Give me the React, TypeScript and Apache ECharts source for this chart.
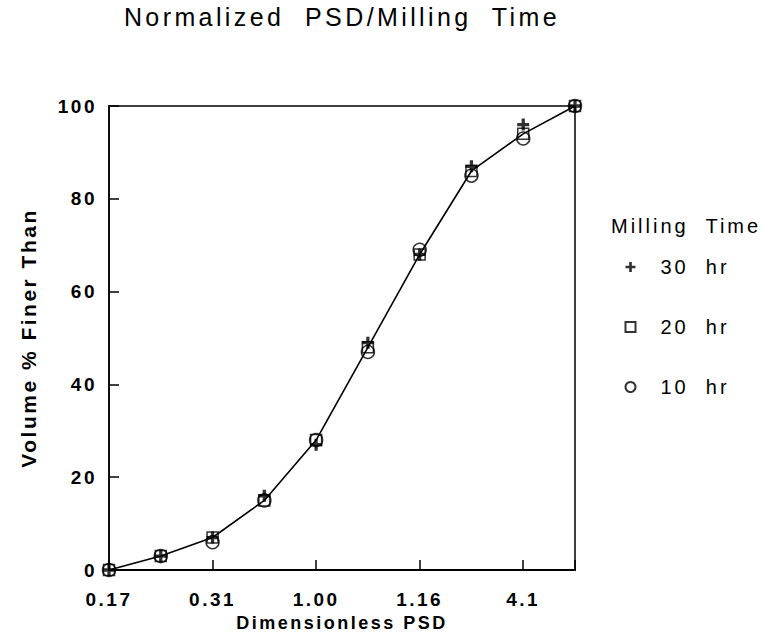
import React, { useEffect, useRef } from "react";
import * as echarts from "echarts";

const xLabels = ["0.17", "", "0.31", "", "1.00", "", "1.16", "", "4.1", ""];
const xIndex = [0, 1, 2, 3, 4, 5, 6, 7, 8, 9];
const hr30 = [0, 3, 7, 16, 27, 49, 68, 87, 96, 100];
const hr20 = [0, 3, 7, 15, 28, 48, 68, 86, 94, 100];
const hr10 = [0, 3, 6, 15, 28, 47, 69, 85, 93, 100];
const seriesNames = ["30  hr", "20  hr", "10  hr"];

const plusPath = "path://M4,0h3v4h4v3h-4v4h-3v-4h-4v-3h4z";
const FONT = "Liberation Sans";

export default function App() {
  const ref = useRef<HTMLDivElement>(null);
  useEffect(() => {
    if (!ref.current) return;
    const chart = echarts.init(ref.current, null, { renderer: "svg" });
    const pts = (vals: number[]) => xIndex.map((x, i) => [x, vals[i]]);
    const axisFont = { fontFamily: FONT, fontWeight: "bold" as const, fontSize: 19, color: "#000" };
    chart.setOption({
      animation: false,
      backgroundColor: "#fff",
      title: {
        text: "Normalized  PSD/Milling  Time",
        left: 342,
        textAlign: "center",
        top: 4,
        padding: 0,
        textStyle: { fontFamily: FONT, fontWeight: "normal", fontSize: 25, color: "#000" },
      },
      legend: {
        orient: "vertical",
        left: 623,
        top: 257,
        padding: 0,
        itemGap: 40,
        itemWidth: 10,
        itemHeight: 10,
        data: [
          { name: seriesNames[0], icon: plusPath },
          { name: seriesNames[1], icon: "rect" },
          { name: seriesNames[2], icon: "circle" },
        ],
        textStyle: { fontFamily: FONT, fontSize: 20, lineHeight: 20, color: "#000", padding: [0, 0, 0, 20] },
      },
      graphic: [
        {
          type: "text",
          left: 611,
          top: 216,
          style: { text: "Milling  Time", fontFamily: FONT, fontSize: 20, fill: "#000" },
        },
      ],
      grid: { left: 109, right: 189, top: 106, bottom: 72, show: true, borderColor: "#000", borderWidth: 1.5 },
      xAxis: {
        type: "value",
        min: 0,
        max: 9,
        interval: 2,
        name: "Dimensionless PSD",
        nameLocation: "middle",
        nameGap: 42,
        nameTextStyle: { ...axisFont, fontSize: 18 },
        axisLine: { lineStyle: { color: "#000", width: 2 } },
        axisTick: { inside: true, length: 10, lineStyle: { color: "#000", width: 1.5 } },
        axisLabel: { ...axisFont, margin: 20, formatter: (v: number) => xLabels[v] ?? "" },
        splitLine: { show: false },
      },
      yAxis: {
        type: "value",
        min: 0,
        max: 100,
        interval: 20,
        name: "Volume % Finer Than",
        nameLocation: "middle",
        nameRotate: 90,
        nameGap: 70,
        nameTextStyle: { ...axisFont, fontSize: 21 },
        axisLine: { lineStyle: { color: "#000", width: 1.5 } },
        axisTick: { inside: true, length: 10, lineStyle: { color: "#000", width: 1.5 } },
        axisLabel: { ...axisFont, margin: 12 },
        splitLine: { show: false },
      },
      series: [
        {
          name: "line",
          type: "line",
          data: pts(hr20),
          symbol: "none",
          lineStyle: { color: "#000", width: 1.6 },
          z: 1,
        },
        {
          name: seriesNames[0],
          type: "scatter",
          data: pts(hr30),
          symbol: plusPath,
          symbolSize: 12,
          itemStyle: { color: "#000" },
          z: 3,
        },
        {
          name: seriesNames[1],
          type: "scatter",
          data: pts(hr20),
          symbol: "rect",
          symbolSize: 11,
          itemStyle: { color: "none", borderColor: "#000", borderWidth: 1.5 },
          z: 3,
        },
        {
          name: seriesNames[2],
          type: "scatter",
          data: pts(hr10),
          symbol: "circle",
          symbolSize: 13,
          itemStyle: { color: "none", borderColor: "#000", borderWidth: 1.5 },
          z: 3,
        },
      ],
    });
    return () => chart.dispose();
  }, []);
  return (
    <>
      <style>{`#psd-chart text{letter-spacing:3px}#psd-chart text[style*="25px"]{letter-spacing:3.4px}#psd-chart text[style*="bold"]{letter-spacing:2.5px}`}</style>
      <div id="psd-chart" ref={ref} style={{ position: "fixed", left: 0, top: 0, width: 764, height: 642, background: "#fff" }} />
    </>
  );
}
